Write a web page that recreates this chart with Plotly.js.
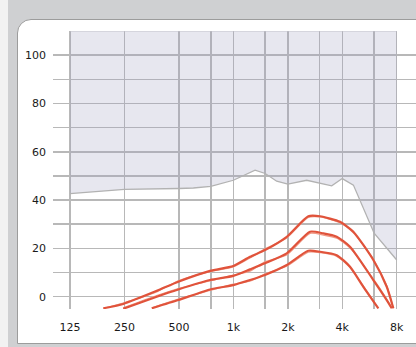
<!DOCTYPE html>
<html>
<head>
<meta charset="utf-8">
<script src="https://cdn.plot.ly/plotly-3.0.1.min.js"></script>
<style>
  html, body { margin: 0; padding: 0; width: 416px; height: 347px; overflow: hidden; background: #f2f2f2; }
  #frame { position: absolute; left: 8px; top: 0px; width: 420px; height: 360px; background: #cfd0d2; }
  #panel { position: absolute; left: 17px; top: 19px; width: 420px; height: 323px; background: #ffffff;
           border: 1px solid #9c9c9c; border-top-left-radius: 14px; }
  #chart { position: absolute; left: 0; top: 0; width: 416px; height: 347px; }
</style>
</head>
<body>
<div id="frame"></div>
<div id="panel"></div>
<div id="chart"></div>
<script>
// Frequency axis ticks (Hz)
const gridFreqs = [125, 250, 500, 750, 1000, 1500, 2000, 3000, 4000, 6000, 8000];
const gridLabels = ['125', '250', '500', '', '1k', '', '2k', '', '4k', '', '8k'];
const levelTicks = [0, 10, 20, 30, 40, 50, 60, 70, 80, 90, 100];
const levelLabels = ['0', '', '20', '', '40', '', '60', '', '80', '', '100'];

// Gray threshold line (shaded above)
const threshFreq = [125, 250, 500, 601, 750, 1000, 1318, 1500, 1736, 2000, 2544, 3000, 3496, 4000, 4609, 6000, 8000];
const threshLevel = [42.7, 44.4, 44.8, 45.0, 45.7, 48.2, 52.4, 51.0, 47.8, 46.6, 48.2, 46.9, 45.9, 48.9, 46.2, 26.3, 15.2];
const shadeTop = 110;

// Red curves: three groups, each a main line and a companion line
const freqA = [191, 246, 377, 496, 743, 999, 1236, 1496, 1972, 2596, 3013, 3888, 4604, 5938, 7044, 7660];
const levelA = [-4.8, -3.0, 2.4, 6.2, 10.7, 12.7, 16.5, 19.3, 24.8, 33.3, 33.3, 31.0, 26.9, 15.2, 4.1, -4.8];
const levelA2 = [-4.8, -2.6, 2.0, 6.6, 10.4, 12.3, 16.0, 19.8, 24.3, 32.8, 33.0, 30.6, 26.4, 15.6, 4.6, -4.8];

const freqB = [246, 377, 496, 743, 999, 1236, 1496, 1972, 2653, 3143, 3727, 4415, 5938, 7044, 7506];
const levelB = [-5.0, 0.0, 3.0, 6.9, 8.6, 11.3, 13.8, 17.9, 26.9, 26.2, 24.8, 20.7, 6.9, -1.4, -4.8];
const levelB2 = [-4.6, 0.5, 3.4, 6.5, 8.9, 10.6, 14.4, 17.3, 26.2, 25.5, 24.2, 20.1, 7.4, -1.0, -4.8];

const freqC = [354, 496, 743, 999, 1236, 1496, 1972, 2596, 3013, 3727, 4415, 5230, 6330];
const levelC = [-4.8, -1.4, 3.0, 4.8, 6.9, 9.0, 13.1, 19.0, 18.6, 17.2, 12.4, 4.1, -4.8];
const levelC2 = [-4.6, -1.0, 2.6, 5.2, 6.4, 9.5, 12.6, 18.4, 18.2, 16.7, 12.0, 4.5, -4.8];

const RED = '#e0533b';
const RED_LIGHT = '#f09a86';

function redLine(x, y, color, width) {
  return { x: x, y: y, type: 'scatter', mode: 'lines', hoverinfo: 'skip', showlegend: false,
           line: { color: color, width: width, shape: 'spline', smoothing: 0.6 } };
}

const traces = [
  { x: [threshFreq[0], threshFreq[threshFreq.length - 1]], y: [shadeTop, shadeTop], type: 'scatter', mode: 'lines',
    line: { color: '#c4c4cc', width: 1 }, hoverinfo: 'skip', showlegend: false },
  { x: threshFreq, y: threshLevel, type: 'scatter', mode: 'lines', fill: 'tonexty',
    fillcolor: 'rgba(160,160,190,0.25)', line: { color: '#b2b2b2', width: 1.3 }, hoverinfo: 'skip', showlegend: false },
  redLine(freqA, levelA2, RED_LIGHT, 1.2),
  redLine(freqA, levelA, RED, 2.2),
  redLine(freqB, levelB2, RED_LIGHT, 1.2),
  redLine(freqB, levelB, RED, 2.2),
  redLine(freqC, levelC2, RED_LIGHT, 1.2),
  redLine(freqC, levelC, RED, 2.2)
];

const tickFont = { family: 'DejaVu Sans, Verdana, sans-serif', size: 11, color: '#1a1a1a' };

const layout = {
  width: 416, height: 347,
  margin: { l: 53, r: 0, t: 31, b: 38, pad: 0 },
  paper_bgcolor: 'rgba(0,0,0,0)',
  plot_bgcolor: 'rgba(0,0,0,0)',
  showlegend: false,
  xaxis: {
    type: 'log', range: [2.0029, 4.0096],
    tickmode: 'array', tickvals: gridFreqs, ticktext: gridLabels,
    showgrid: true, gridcolor: '#b8b8b8', gridwidth: 1.5,
    zeroline: false, showline: false, ticks: '', tickfont: tickFont,
    ticklabelstandoff: 10, fixedrange: true
  },
  yaxis: {
    range: [-5.1, 110],
    tickmode: 'array', tickvals: levelTicks, ticktext: levelLabels,
    showgrid: true, gridcolor: '#b8b8b8', gridwidth: 1.5,
    zeroline: false, showline: false, ticks: '', tickfont: tickFont,
    ticklabelstandoff: 6, fixedrange: true
  }
};

Plotly.newPlot('chart', traces, layout, { staticPlot: true, displayModeBar: false });
</script>
</body>
</html>
